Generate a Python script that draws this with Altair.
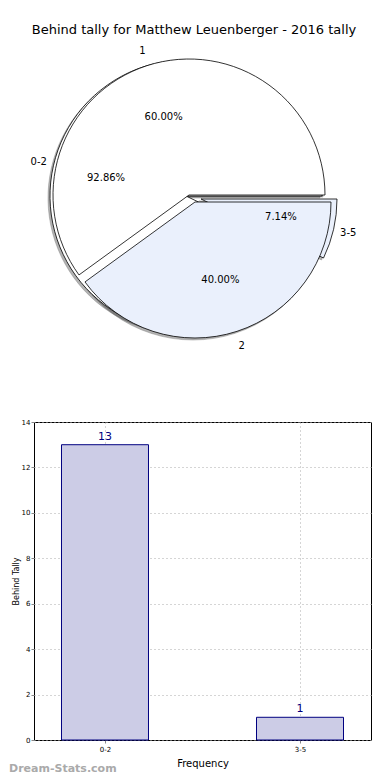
import altair as alt
import pandas as pd
import math

# ---------------- data ----------------
title_text = "Behind tally for Matthew Leuenberger - 2016 tally"
outer_labels = ["1", "2"]
outer_values = [60.0, 40.0]
inner_labels = ["0-2", "3-5"]
inner_values = [13, 1]
bar_categories = ["0-2", "3-5"]
bar_values = [13, 1]
y_ticks = [0, 2, 4, 6, 8, 10, 12, 14]
watermark = "Dream-Stats.com"

rows = []
for ring, labs, vals in (("outer", outer_labels, outer_values),
                         ("inner", inner_labels, inner_values)):
    tot = float(sum(vals))
    for l, v in zip(labs, vals):
        rows.append({"ring": ring, "label": l, "value": v, "pct": v / tot})
pie_df = pd.DataFrame(rows)
bar_df = pd.DataFrame({"cat": bar_categories, "value": bar_values})

# ---------------- style / layout ----------------
FONT = "DejaVu Sans"
PX, PY = 35, 8            # page position of panel origin (approx.)
R = 136
LAB_R = 151
PCT_R = 82
centers = {"1": (190, 195), "2": (196, 202), "0-2": (187, 196), "3-5": (202, 199)}
fills = {"1": "#ffffff", "2": "#eaf0fc", "0-2": "#ffffff", "3-5": "#eaf0fc"}
theta_scale = alt.Scale(domain=[0, 1], range=[math.pi / 2, math.pi / 2 + 2 * math.pi])
PIE_W, PIE_H = 337, 389
BAR_W, BAR_H = 337, 318

base = (
    alt.Chart(pie_df)
    .transform_stack(stack="pct", groupby=["ring"], as_=["start", "end"],
                     sort=[alt.SortField("label", order="descending")])
    .transform_calculate(mid="(datum.start + datum.end) / 2",
                         ptxt="format(datum.pct * 100, '.2f') + '%'")
)

shadow_layers, inner_layers, outer_layers, text_layers = [], [], [], []
for lab in inner_labels + outer_labels:
    cx, cy = centers[lab]
    sel = base.transform_filter(alt.datum.label == lab)
    shadow_layers.append(
        sel.mark_arc(radius=R, fill="#000000", fillOpacity=0.3, stroke="#777777",
                     strokeOpacity=0.5, strokeWidth=0.8)
        .encode(theta=alt.Theta("start:Q", scale=theta_scale), theta2="end:Q",
                x=alt.value(cx - PX - 2), y=alt.value(cy - PY + 2))
    )
    wedge = (
        sel.mark_arc(radius=R, fill=fills[lab], stroke="#000000", strokeWidth=0.8)
        .encode(theta=alt.Theta("start:Q", scale=theta_scale), theta2="end:Q",
                x=alt.value(cx - PX), y=alt.value(cy - PY))
    )
    (inner_layers if lab in inner_labels else outer_layers).append(wedge)
    text_layers.append(
        sel.mark_text(radius=LAB_R, font=FONT, fontSize=10, color="#000000")
        .encode(theta=alt.Theta("mid:Q", scale=theta_scale, stack=False),
                text="label:N", x=alt.value(cx - PX), y=alt.value(cy - PY))
    )
    text_layers.append(
        sel.mark_text(radius=PCT_R, font=FONT, fontSize=10, color="#000000")
        .encode(theta=alt.Theta("mid:Q", scale=theta_scale, stack=False),
                text="ptxt:N", x=alt.value(cx - PX), y=alt.value(cy - PY))
    )

title_layer = (
    alt.Chart(pd.DataFrame({"t": [title_text]}))
    .mark_text(font=FONT, fontSize=13, color="#000000")
    .encode(text="t:N", x=alt.value(195 - PX), y=alt.value(30 - PY))
)

pie = alt.layer(*shadow_layers, *inner_layers, *outer_layers, *text_layers,
                title_layer).properties(
    width=PIE_W, height=PIE_H,
    view=alt.ViewBackground(stroke="transparent", strokeWidth=0))

# ---------------- bar chart ----------------
grid_kw = dict(grid=True, gridColor="#aaaaaa", gridDash=[1, 3], gridWidth=1)
bars = alt.Chart(bar_df).mark_bar(size=87, fill="#ccccE6", stroke="#000080",
                                  strokeWidth=1).encode(
    x=alt.X("cat:N", sort=bar_categories,
            scale=alt.Scale(type="point", padding=0.364),
            axis=alt.Axis(title="Frequency", titleFontSize=10, titleFont=FONT,
                          titleFontWeight="normal", titlePadding=6,
                          labelFontSize=7, labelFont=FONT, labelAngle=0,
                          tickSize=3, domain=False, **grid_kw)),
    y=alt.Y("value:Q", scale=alt.Scale(domain=[0, 14], nice=False),
            axis=alt.Axis(title="Behind Tally", titleFontSize=8, titleFont=FONT,
                          titleFontWeight="normal", titlePadding=1,
                          values=y_ticks, labelFontSize=7, labelFont=FONT,
                          labelPadding=1, tickSize=3, domain=False, **grid_kw)),
)
bar_text = alt.Chart(bar_df).mark_text(baseline="bottom", dy=-3, color="#000080",
                                       font=FONT, fontSize=11).encode(
    x=alt.X("cat:N", sort=bar_categories), y="value:Q", text="value:Q")
wm = alt.Chart(pd.DataFrame({"w": [watermark]})).mark_text(
    align="left", baseline="middle", font=FONT, fontSize=11, fontWeight="bold",
    color="#aaaaaa").encode(text="w:N", x=alt.value(-25), y=alt.value(BAR_H + 29))

bar = alt.layer(bars, bar_text, wm).properties(
    width=BAR_W, height=BAR_H,
    view=alt.ViewBackground(stroke="#000000", strokeWidth=1))

chart = (
    alt.vconcat(pie, bar, spacing=20)
    .properties(padding={"left": 0, "top": 0, "right": 0, "bottom": 0})
    .configure_view(strokeWidth=0, stroke="transparent")
    .configure(font=FONT)
)
chart.save("out.html", embed_options={"renderer": "svg", "actions": False})
